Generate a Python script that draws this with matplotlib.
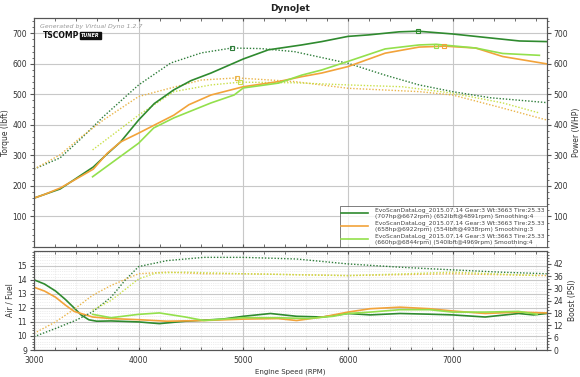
import matplotlib
matplotlib.use("Agg")
import matplotlib.pyplot as plt
from matplotlib.ticker import MultipleLocator, NullFormatter

# --- data ---
# power (WHP), solid lines
rpm_dg_power = [3000, 3100, 3250, 3400, 3567, 3700, 3827, 4000, 4150, 4337, 4500, 4692, 5000, 5240, 5558, 5750, 6000, 6200, 6490, 6672, 7000, 7360, 7640, 7900]
dg_power = [160, 172, 190, 224, 262, 305, 344, 416, 470, 515, 545, 570, 616, 646, 662, 673, 690, 695, 705, 707, 698, 685, 675, 673]
rpm_or_power = [3000, 3100, 3250, 3400, 3567, 3700, 3827, 4000, 4337, 4480, 4692, 5000, 5337, 5558, 5750, 6000, 6356, 6680, 6922, 7220, 7480, 7900]
or_power = [160, 172, 193, 222, 255, 307, 344, 373, 432, 466, 498, 525, 542, 558, 570, 591, 635, 655, 658, 652, 624, 600]
rpm_lg_power = [3560, 3800, 4000, 4144, 4337, 4692, 4913, 5000, 5337, 5558, 5750, 6000, 6356, 6680, 6844, 7220, 7480, 7830]
lg_power = [230, 290, 340, 390, 423, 472, 498, 521, 537, 563, 580, 608, 649, 662, 664, 652, 634, 628]

# torque (lbft), dotted lines
rpm_dg_torque = [3000, 3250, 3450, 3663, 4000, 4308, 4600, 4891, 5173, 5490, 6000, 6356, 6680, 7000, 7360, 7900]
dg_torque = [255, 292, 355, 427, 531, 603, 636, 652, 650, 640, 602, 563, 531, 509, 489, 473]
rpm_or_torque = [3000, 3250, 3450, 3663, 4000, 4308, 4600, 4938, 5490, 6000, 6680, 7000, 7480, 7900]
or_torque = [255, 302, 360, 416, 493, 521, 547, 554, 542, 520, 509, 498, 455, 416]
rpm_lg_torque = [3560, 4000, 4337, 4692, 4969, 5490, 6000, 6520, 7000, 7480, 7830]
lg_torque = [318, 432, 509, 531, 540, 538, 531, 525, 504, 472, 439]

# peaks from the legend
peak_rpm_power = [6672, 6922, 6844]
peak_power = [707, 658, 660]
peak_rpm_torque = [4891, 4938, 4969]
peak_torque = [652, 554, 540]

# air/fuel, solid lines
rpm_dg_afr = [3000, 3100, 3206, 3300, 3383, 3450, 3525, 3600, 3737, 4000, 4198, 4447, 4801, 5000, 5260, 5510, 5759, 6000, 6213, 6497, 6780, 7000, 7312, 7631, 7773, 7900]
dg_afr = [14.0, 13.7, 13.2, 12.6, 12.0, 11.5, 11.15, 11.05, 11.07, 11.0, 10.88, 11.05, 11.2, 11.4, 11.6, 11.4, 11.35, 11.6, 11.5, 11.6, 11.55, 11.5, 11.35, 11.6, 11.5, 11.6]
rpm_or_afr = [3000, 3100, 3206, 3300, 3383, 3560, 3737, 4000, 4270, 4624, 5000, 5330, 5510, 5759, 6000, 6213, 6497, 6780, 7000, 7312, 7631, 7900]
or_afr = [13.47, 13.2, 12.76, 12.2, 11.75, 11.35, 11.24, 11.16, 11.05, 11.1, 11.2, 11.24, 11.1, 11.35, 11.7, 11.94, 12.05, 11.94, 11.78, 11.6, 11.7, 11.64]
rpm_lg_afr = [3560, 3737, 4000, 4198, 4447, 4624, 5000, 5330, 5617, 5858, 6000, 6213, 6497, 6780, 7000, 7312, 7631, 7809]
lg_afr = [11.54, 11.3, 11.54, 11.64, 11.35, 11.1, 11.3, 11.3, 11.24, 11.4, 11.6, 11.7, 11.87, 11.87, 11.7, 11.7, 11.75, 11.54]

# boost (PSI), dotted lines
rpm_dg_boost = [3000, 3206, 3400, 3560, 3737, 3870, 4000, 4270, 4624, 5000, 5510, 6000, 6497, 7000, 7454, 7900]
dg_boost = [6.5, 10.5, 14.5, 18.6, 25.8, 34.0, 40.7, 43.6, 45.2, 45.2, 44.4, 42.0, 40.4, 39.1, 38.0, 37.2]
rpm_or_boost = [3000, 3206, 3400, 3560, 3737, 4000, 4270, 4624, 5000, 6000, 7000, 7900]
or_boost = [8.1, 13.7, 20.5, 26.7, 31.5, 37.2, 38.0, 37.2, 37.2, 36.3, 37.2, 36.3]
rpm_lg_boost = [3560, 3737, 4000, 4163, 4447, 5000, 6000, 6560, 7000, 7809]
lg_boost = [19.4, 24.2, 34.7, 37.5, 38.0, 37.2, 36.3, 37.2, 38.0, 36.3]

legend_labels = [
    "EvoScanDataLog_2015.07.14 Gear:3 Wt:3663 Tire:25.33\n(707hp@6672rpm) (652lbft@4891rpm) Smoothing:4",
    "EvoScanDataLog_2015.07.14 Gear:3 Wt:3663 Tire:25.33\n(658hp@6922rpm) (554lbft@4938rpm) Smoothing:3",
    "EvoScanDataLog_2015.07.14 Gear:3 Wt:3663 Tire:25.33\n(660hp@6844rpm) (540lbft@4969rpm) Smoothing:4",
]

# --- style ---
DG = "#2f8a2f"
OR = "#f2a33a"
LG = "#93e04c"
DG_DOT = "#2e7d3a"
OR_DOT = "#eab54a"
LG_DOT = "#c9e04a"
GRID = "#c8c8c8"
SPINE = "#555555"
TXT = "#333333"
FS = 5.5
DOTS = (0, (1, 1.3))

plt.rcParams["font.family"] = "DejaVu Sans"

fig = plt.figure(figsize=(5.8, 3.77), dpi=100)
ax = fig.add_axes([0.0586, 0.345, 0.884, 0.607])
axp = ax.twinx()
bx = fig.add_axes([0.0586, 0.0716, 0.884, 0.2626])
bxb = bx.twinx()

# top panel: torque dotted on left, power solid on right (same scale)
ax.plot(rpm_dg_torque, dg_torque, color=DG_DOT, lw=1.0, ls=DOTS)
ax.plot(rpm_or_torque, or_torque, color=OR_DOT, lw=1.0, ls=DOTS)
ax.plot(rpm_lg_torque, lg_torque, color=LG_DOT, lw=1.0, ls=DOTS)
h1, = axp.plot(rpm_dg_power, dg_power, color=DG, lw=1.2)
h2, = axp.plot(rpm_or_power, or_power, color=OR, lw=1.2)
h3, = axp.plot(rpm_lg_power, lg_power, color=LG, lw=1.2)
for c, r, v in zip([DG, OR, LG], peak_rpm_power, peak_power):
    axp.plot([r], [v], marker="s", ms=3, mfc="none", mec=c, mew=0.8)
for c, r, v in zip([DG_DOT, OR_DOT, LG_DOT], peak_rpm_torque, peak_torque):
    ax.plot([r], [v], marker="s", ms=3, mfc="none", mec=c, mew=0.8)

for a in (ax, axp):
    a.set_ylim(0, 750)
    a.set_xlim(3000, 7900)
ax.set_yticks([100, 200, 300, 400, 500, 600, 700])
axp.set_yticks([100, 200, 300, 400, 500, 600, 700])
ax.yaxis.set_minor_locator(MultipleLocator(20))
axp.yaxis.set_minor_locator(MultipleLocator(20))
ax.set_xticks([4000, 5000, 6000, 7000])
ax.xaxis.set_minor_locator(MultipleLocator(200))
ax.xaxis.set_major_formatter(NullFormatter())
ax.grid(True, which="major", color=GRID, lw=0.8)
ax.set_axisbelow(True)
ax.tick_params(axis="x", which="both", direction="in", top=True, bottom=True, length=2, color=SPINE)
for a in (ax, axp):
    a.tick_params(axis="y", which="major", direction="out", length=3, pad=2,
                  labelsize=FS, labelcolor=TXT, color=SPINE)
    a.tick_params(axis="y", which="minor", direction="out", length=1.5, color=SPINE)
ax.set_ylabel("Torque (lbft)", fontsize=FS, color=TXT, labelpad=2)
axp.set_ylabel("Power (WHP)", fontsize=FS, color=TXT, labelpad=3)

leg = axp.legend([h1, h2, h3], legend_labels, loc="lower right", fontsize=4.3,
                 frameon=True, fancybox=False, borderaxespad=0, handlelength=4.5,
                 labelspacing=0.25, borderpad=0.3, handletextpad=1.2)
leg.get_frame().set_edgecolor("#444444")
leg.get_frame().set_linewidth(0.6)
for t in leg.get_texts():
    t.set_color("#444444")

ax.text(0.012, 0.975, "Generated by Virtual Dyno 1.2.7", transform=ax.transAxes,
        fontsize=4.5, color="#999999", style="italic", va="top")
ax.text(0.018, 0.925, "TSCOMP", transform=ax.transAxes, fontsize=5.5, color="#111111",
        va="center", fontweight="bold")
ax.text(0.092, 0.925, "TUNER", transform=ax.transAxes, fontsize=3.5, color="white",
        va="center", style="italic", fontweight="bold",
        bbox=dict(boxstyle="square,pad=0.25", fc="#111111", ec="#111111"))

# bottom panel: air/fuel solid on left, boost dotted on right
bx.plot(rpm_dg_afr, dg_afr, color=DG, lw=1.2)
bx.plot(rpm_or_afr, or_afr, color=OR, lw=1.2)
bx.plot(rpm_lg_afr, lg_afr, color=LG, lw=1.2)
bxb.plot(rpm_dg_boost, dg_boost, color=DG_DOT, lw=1.0, ls=DOTS)
bxb.plot(rpm_or_boost, or_boost, color=OR_DOT, lw=1.0, ls=DOTS)
bxb.plot(rpm_lg_boost, lg_boost, color=LG_DOT, lw=1.0, ls=DOTS)

bx.set_xlim(3000, 7900)
bx.set_ylim(9, 16.05)
bxb.set_ylim(0, 48.3)
bx.set_yticks([9, 10, 11, 12, 13, 14, 15])
bx.yaxis.set_minor_locator(MultipleLocator(0.2))
bxb.set_yticks([0, 6, 12, 18, 24, 30, 36, 42])
bxb.yaxis.set_minor_locator(MultipleLocator(1.5))
bx.set_xticks([3000, 4000, 5000, 6000, 7000])
bx.xaxis.set_minor_locator(MultipleLocator(200))
bx.grid(True, which="major", color=GRID, lw=0.8)
bx.grid(True, which="minor", color="#dddddd", lw=0.5, ls=":")
bx.set_axisbelow(True)
bx.tick_params(axis="x", which="both", direction="in", top=True, bottom=True, length=2,
               labelsize=FS, labelcolor=TXT, color=SPINE, pad=4)
for a in (bx, bxb):
    a.tick_params(axis="y", which="major", direction="out", length=3, pad=2,
                  labelsize=FS, labelcolor=TXT, color=SPINE)
    a.tick_params(axis="y", which="minor", direction="out", length=1.5, color=SPINE)
bx.set_ylabel("Air / Fuel", fontsize=FS, color=TXT, labelpad=2)
bxb.set_ylabel("Boost (PSI)", fontsize=FS, color=TXT, labelpad=3)
bx.set_xlabel("Engine Speed (RPM)", fontsize=FS - 0.5, color=TXT, labelpad=3)

for a in (ax, axp, bx, bxb):
    for s in a.spines.values():
        s.set_color(SPINE)
        s.set_linewidth(0.8)

fig.text(0.5, 0.978, "DynoJet", ha="center", va="center", fontsize=6.5, color="#222222", fontweight="bold")

fig.savefig("out.png", dpi=100, facecolor="white")
